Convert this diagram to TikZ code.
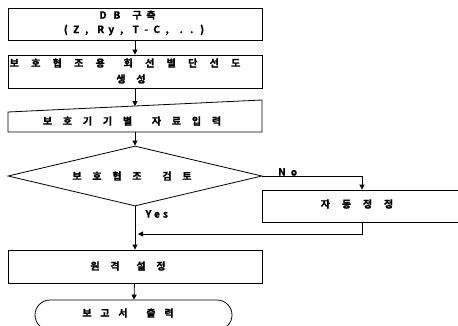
\documentclass[tikz,border=0pt]{standalone}
\usepackage{fontspec}
\setmainfont{Noto Sans CJK KR}[BoldFont={Noto Sans CJK KR Bold},BoldFeatures={FakeBold=1.2}]
\usetikzlibrary{arrows.meta,shapes.geometric,shapes.misc}
\makeatletter
% \ltr{pitch}{word gap}{text}: each character centred in a box of fixed pitch
\def\wg{}
\def\@wgtok{\wg}
\newcommand\ltr[3]{\begingroup\def\@pitch{#1}%
  \@tfor\@ch:=#3\do{\ifx\@ch\@wgtok\hskip#2\relax\else\makebox[\@pitch]{\@ch}\fi}\endgroup}
\makeatother
\newcommand\kfont{\fontsize{10pt}{12pt}\selectfont\bfseries}
\begin{document}
\begin{tikzpicture}[x=1pt,y=-1pt,
  line width=0.8pt,
  every node/.style={font=\kfont},
  box/.style={draw, rectangle, minimum width=254pt, inner sep=0pt},
  arr/.style={-{Triangle[length=5pt,width=5pt]}},
  lbl/.style={font=\kfont, inner sep=0pt}]
\useasboundingbox (0,0) rectangle (458,325);
% boxes
\node[box, minimum height=32pt] (b1) at (135,24) {};
\node[lbl] (b1a) at (127,15) {\ltr{14pt}{6pt}{DB\wg 구축}};
\node[lbl] (b1b) at (134,30) {\ltr{10.5pt}{3.5pt}{(Z,\wg Ry,\wg T-C,\wg ..)}};
\node[box, minimum height=33pt] (b2) at (135,71.5) {};
\node[lbl] (b2a) at (125,63) {\ltr{21.5pt}{6.5pt}{보호협조용\wg 회선별단선도}};
\node[lbl] (b2b) at (131,79) {\ltr{20pt}{0pt}{생성}};
% manual input
\draw (8,112) -- (262,100) -- (262,132) -- (8,132) -- cycle;
\node[lbl] (b3) at (132,121) {\ltr{20pt}{9pt}{보호기기별\wg 자료입력}};
\coordinate (b3top) at (135,106);
\coordinate (b3bot) at (135,132);
% decision
\node[draw, diamond, aspect=4.23, minimum width=254pt, minimum height=60pt, inner sep=0pt] (d) at (135,176) {};
\node[lbl] (dt) at (132,176) {\ltr{20pt}{10pt}{보호협조\wg 검토}};
% auto correction (open to the right)
\node[draw, rectangle, minimum width=212pt, minimum height=32pt, anchor=west, inner sep=0pt] (b5) at (262,206) {};
\node[lbl] (b5t) at (357,204) {\ltr{21pt}{0pt}{자동정정}};
\coordinate (nox) at (362,0);
\coordinate (mrg) at (138,234);
% remote setting
\node[box, minimum height=33pt] (b6) at (135,266.5) {};
\node[lbl] (b6t) at (128,266) {\ltr{20pt}{6pt}{원격\wg 설정}};
% terminal
\node[draw, rounded rectangle, minimum width=197pt, minimum height=30pt, inner sep=0pt] (t) at (133.5,315) {};
\node[lbl] (tt) at (128,313) {\ltr{18pt}{10pt}{보고서\wg 출력}};
% labels
\node[lbl] (yes) at (157,214) {\ltr{8.5pt}{0pt}{Yes}};
\node[lbl] (no) at (288,172) {\ltr{12pt}{0pt}{No}};
% connectors
\draw[arr] (b1) -- (b2);
\draw[arr] (b2) -- (b3top);
\draw[arr] (b3bot) -- (d);
\draw[arr] (d.east) -| (b5.north -| nox);
\draw[arr] (b5.south -| nox) |- (mrg);
\draw[arr] (d) -- (b6);
\draw[arr] (b6) -- (t);
\end{tikzpicture}
\end{document}
